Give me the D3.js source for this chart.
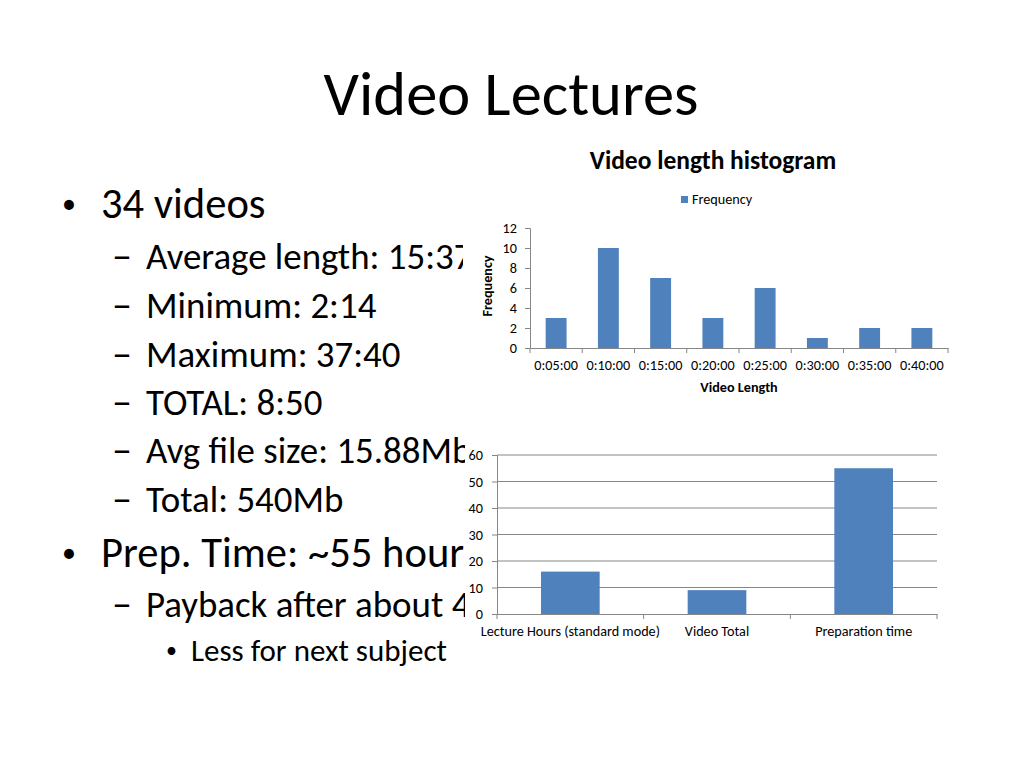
<!DOCTYPE html>
<html>
<head>
<meta charset="utf-8">
<script src="https://cdn.jsdelivr.net/npm/d3@7"></script>
<style>
  body { margin: 0; background: #fff; }
  svg { display: block; font-family: Carlito, Calibri, Lato, "Open Sans", sans-serif; }
</style>
</head>
<body>
<div id="slide"></div>
<script>
// slide text
var slideTitle = "Video Lectures";
var bulletLines = [
  { level: 1, text: "34 videos" },
  { level: 2, text: "Average length: 15:37" },
  { level: 2, text: "Minimum: 2:14" },
  { level: 2, text: "Maximum: 37:40" },
  { level: 2, text: "TOTAL: 8:50" },
  { level: 2, text: "Avg file size: 15.88Mb" },
  { level: 2, text: "Total: 540Mb" },
  { level: 1, text: "Prep. Time: ~55 hours" },
  { level: 2, text: "Payback after about 4 years" },
  { level: 3, text: "Less for next subject" }
];

// histogram data
var lengthBins = ["0:05:00", "0:10:00", "0:15:00", "0:20:00", "0:25:00", "0:30:00", "0:35:00", "0:40:00"];
var binCounts = [3, 10, 7, 3, 6, 1, 2, 2];
var histTicks = [0, 2, 4, 6, 8, 10, 12];

// hours comparison data
var hourCategories = ["Lecture Hours (standard mode)", "Video Total", "Preparation time"];
var hourValues = [16, 9, 55];
var hourTicks = [0, 10, 20, 30, 40, 50, 60];

var barColor = "#4F81BD";
var axisColor = "#868686";
var chartFont = 14.2;

var svg = d3.select("#slide")
  .append("svg")
  .attr("width", 1024)
  .attr("height", 768);

svg.append("rect").attr("width", 1024).attr("height", 768).attr("fill", "#fff");

// title
svg.append("text")
  .attr("x", 511)
  .attr("y", 115)
  .attr("text-anchor", "middle")
  .attr("font-size", 62.5)
  .text(slideTitle);

// bullets
var levelStyle = {
  1: { mark: "\u2022", markX: 62, markSize: 28, markDy: -5.5, textX: 101, size: 42.6 },
  2: { mark: "\u2013", markX: 112, markSize: 40, markDy: 0, textX: 146, size: 36.9 },
  3: { mark: "\u2022", markX: 166, markSize: 22, markDy: -3.5, textX: 191, size: 31 }
};
var lineY = [218, 269, 318, 367, 415, 463, 512, 567, 617, 661];

var bullets = svg.append("g");
bulletLines.forEach(function(d, i) {
  var st = levelStyle[d.level];
  bullets.append("text")
    .attr("x", st.markX)
    .attr("y", lineY[i] + st.markDy)
    .attr("font-size", st.markSize)
    .text(st.mark);
  bullets.append("text")
    .attr("x", st.textX)
    .attr("y", lineY[i])
    .attr("font-size", st.size)
    .text(d.text);
});

// ---------- histogram chart ----------
var hist = svg.append("g");
hist.append("rect")
  .attr("x", 463).attr("y", 140)
  .attr("width", 497).attr("height", 262)
  .attr("fill", "#fff");

hist.append("text")
  .attr("x", 713).attr("y", 169)
  .attr("text-anchor", "middle")
  .attr("font-size", 25.5)
  .attr("font-weight", "bold")
  .text("Video length histogram");

// legend
hist.append("rect")
  .attr("x", 681).attr("y", 196)
  .attr("width", 7).attr("height", 7)
  .attr("fill", barColor);
hist.append("text")
  .attr("x", 692).attr("y", 203.5)
  .attr("font-size", chartFont)
  .text("Frequency");

var hx = d3.scaleBand()
  .domain(lengthBins)
  .range([530, 948])
  .paddingInner(0.6)
  .paddingOuter(0.3);
var hy = d3.scaleLinear()
  .domain([0, 12])
  .range([348, 228]);

hist.selectAll(".bar")
  .data(binCounts)
  .enter()
  .append("rect")
  .attr("class", "bar")
  .attr("x", (d, i) => hx(lengthBins[i]))
  .attr("y", d => hy(d))
  .attr("width", hx.bandwidth())
  .attr("height", d => hy(0) - hy(d))
  .attr("fill", barColor);

var hLeft = hist.append("g")
  .attr("transform", "translate(530,0)")
  .call(d3.axisLeft(hy).tickValues(histTicks).tickSize(5).tickPadding(8));

var hBottom = hist.append("g")
  .attr("transform", "translate(0,348)")
  .call(d3.axisBottom(hx).tickSize(0).tickPadding(12));

// category boundary ticks
var hBounds = d3.range(lengthBins.length + 1).map(i => hx.range()[0] + i * hx.step());
hist.selectAll(".btick")
  .data(hBounds)
  .enter()
  .append("line")
  .attr("x1", d => d).attr("x2", d => d)
  .attr("y1", 348).attr("y2", 353)
  .attr("stroke", axisColor);

hist.append("text")
  .attr("x", 739).attr("y", 392)
  .attr("text-anchor", "middle")
  .attr("font-size", chartFont)
  .attr("font-weight", "bold")
  .text("Video Length");

hist.append("text")
  .attr("transform", "translate(492,286) rotate(-90)")
  .attr("text-anchor", "middle")
  .attr("font-size", chartFont)
  .attr("font-weight", "bold")
  .text("Frequency");

// ---------- hours chart ----------
var hours = svg.append("g");
hours.append("rect")
  .attr("x", 465).attr("y", 445)
  .attr("width", 495).attr("height", 205)
  .attr("fill", "#fff");

var bx = d3.scaleBand()
  .domain(hourCategories)
  .range([497, 937])
  .paddingInner(0.6)
  .paddingOuter(0.3);
var by = d3.scaleLinear()
  .domain([0, 60])
  .range([614, 455]);

// gridlines
hours.selectAll(".grid")
  .data(hourTicks.slice(1))
  .enter()
  .append("line")
  .attr("x1", 497).attr("x2", 937)
  .attr("y1", d => by(d)).attr("y2", d => by(d))
  .attr("stroke", axisColor);

hours.selectAll(".bar")
  .data(hourValues)
  .enter()
  .append("rect")
  .attr("class", "bar")
  .attr("x", (d, i) => bx(hourCategories[i]))
  .attr("y", d => by(d))
  .attr("width", bx.bandwidth())
  .attr("height", d => by(0) - by(d))
  .attr("fill", barColor);

var bLeft = hours.append("g")
  .attr("transform", "translate(497,0)")
  .call(d3.axisLeft(by).tickValues(hourTicks).tickSize(5).tickPadding(9));

var bBottom = hours.append("g")
  .attr("transform", "translate(0,614)")
  .call(d3.axisBottom(bx).tickSize(0).tickPadding(12));

var bBounds = d3.range(hourCategories.length + 1).map(i => bx.range()[0] + i * bx.step());
hours.selectAll(".btick")
  .data(bBounds)
  .enter()
  .append("line")
  .attr("x1", d => d).attr("x2", d => d)
  .attr("y1", 614).attr("y2", 619)
  .attr("stroke", axisColor);

// shared axis styling
[hLeft, hBottom, bLeft, bBottom].forEach(function(g) {
  g.attr("font-family", null).attr("font-size", chartFont);
  g.selectAll("text").attr("fill", "#000");
  g.selectAll("path, line").attr("stroke", axisColor);
});
</script>
</body>
</html>
